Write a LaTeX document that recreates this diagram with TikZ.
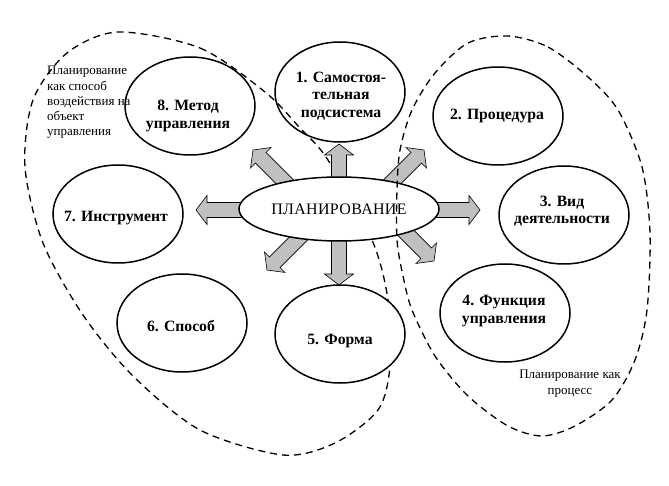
\documentclass[tikz,border=0pt]{standalone}
\usepackage{fontspec}
\setmainfont{Liberation Serif}
\newfontfamily\spacedfont[LetterSpace=2]{Liberation Serif}
\usetikzlibrary{shapes.geometric,calc}
\definecolor{arrgray}{RGB}{192,192,192}
\newcommand{\blockarrow}[4]{%
  \pgfmathsetmacro\hb{#4-11}%
  \pgfmathsetmacro\ap{#3+90}%
  \pgfmathsetmacro\am{#3-90}%
  \draw[blk] ($(#1,#2)+(\ap:7.5)$) -- ($(#1,#2)+(#3:\hb)+(\ap:7.5)$)
    -- ($(#1,#2)+(#3:\hb)+(\ap:14.5)$) -- ($(#1,#2)+(#3:#4)$)
    -- ($(#1,#2)+(#3:\hb)+(\am:14.5)$) -- ($(#1,#2)+(#3:\hb)+(\am:7.5)$)
    -- ($(#1,#2)+(\am:7.5)$) -- cycle;}
\begin{document}
\begin{tikzpicture}[x=1pt,y=-1pt,
  ell/.style={draw=black,line width=1.5pt,fill=white,ellipse,inner sep=0pt,minimum width=130pt,minimum height=98pt},
  lab/.style={font=\bfseries\fontsize{15.7}{17.5}\selectfont,align=center,inner sep=0pt},
  note/.style={font=\fontsize{13}{15.3}\selectfont,inner sep=0pt},
  region/.style={draw=black,line width=1.3pt,dash pattern=on 7pt off 5pt},
  blk/.style={draw=black,line width=0.6pt,fill=arrgray,line join=miter}]
\useasboundingbox (0,0) rectangle (669,486);

% ellipse 1 (under left region line)
\node[ell,minimum height=100pt] (e1) at (340,92) {};

% left region
\draw[region] plot[smooth cycle] coordinates {(118,32) (200,48) (265,92) (300,128) (328,160)
  (372,240) (388,300) (390,366) (378,410) (335,443) (283,455) (200,430) (133,376)
  (83,315) (43,243) (25,167) (33,100) (67,53)};

% block arrows
\blockarrow{339}{200}{270}{56}
\blockarrow{339}{220}{90}{65}
\blockarrow{270}{210}{180}{74}
\blockarrow{410}{210}{0}{70}
\blockarrow{302.5}{199.5}{225}{70}
\blockarrow{374.5}{199.5}{315}{70}
\blockarrow{316.5}{220.5}{135}{70}
\blockarrow{384.5}{211.5}{45}{70}

% centre
\node[ell,minimum width=200pt,minimum height=64pt,font=\spacedfont\fontsize{16}{18}\selectfont] (c) at (339,209) {ПЛАНИРОВАНИЕ};

% other ellipses
\node[ell] (e2) at (498,116) {};
\node[ell] (e3) at (564,215) {};
\node[ell] (e4) at (505,313) {};
\node[ell] (e5) at (340,334) {};
\node[ell] (e6) at (182,323) {};
\node[ell] (e7) at (118,214) {};
\node[ell] (e8) at (190,106) {};

% labels
\node[lab] (t1) at (341,96) {1. Самостоя-\\тельная\\подсистема};
\node[lab] (t2) at (497,116) {2. Процедура};
\node[lab] (t3) at (562,211) {3. Вид\\деятельности};
\node[lab] (t4) at (504,311) {4. Функция\\управления};
\node[lab] (t5) at (340,341) {5. Форма};
\node[lab] (t6) at (181,326) {6. Способ};
\node[lab] (t7) at (116,218) {7. Инструмент};
\node[lab] (t8) at (188,116) {8. Метод\\управления};

% notes
\node[note,anchor=north west,align=left] (n1) at (47,66) {Планирование\\как способ\\воздействия на\\объект\\управления};
\node[note,anchor=north,align=center] (n2) at (570,370) {Планирование как\\процесс};

% right region (on top)
\draw[region] plot[smooth cycle] coordinates {(508,36) (548,47) (588,77) (618,110) (642,167)
  (650,233) (647,310) (635,360) (612,400) (575,426) (542,436) (508,426) (468,396)
  (435,356) (412,310) (403,276) (397,240) (397,190) (400,150) (412,110) (435,73) (468,43)};
\end{tikzpicture}
\end{document}
